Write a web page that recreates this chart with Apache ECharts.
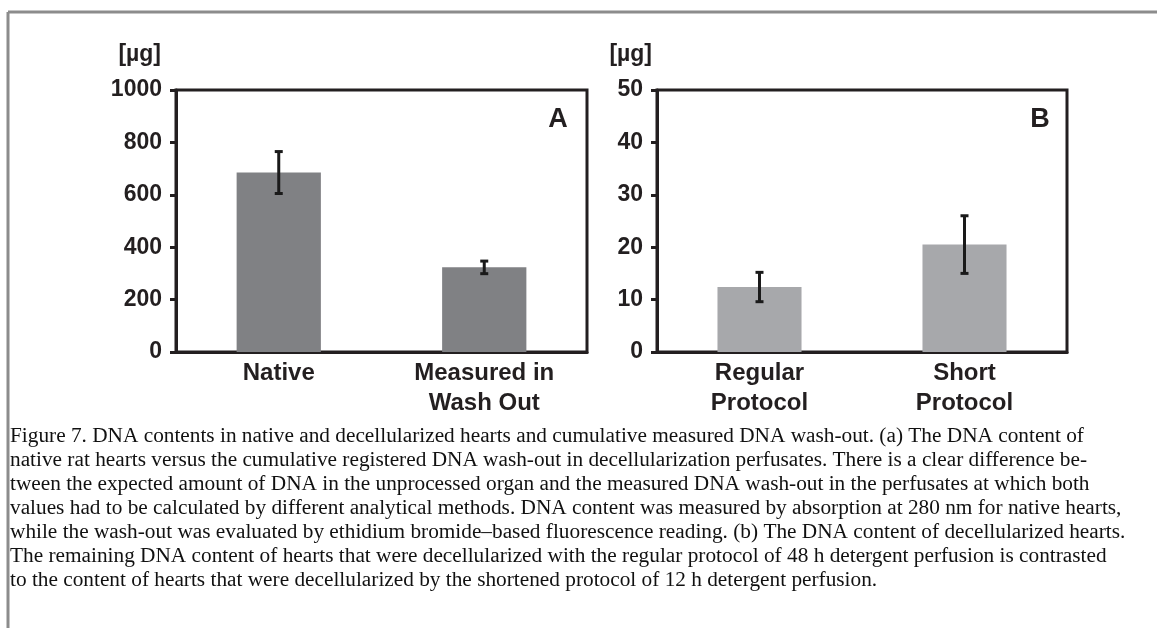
<!DOCTYPE html>
<html><head><meta charset="utf-8">
<script src="https://cdn.jsdelivr.net/npm/echarts@6/dist/echarts.min.js"></script>
<style>html,body{margin:0;padding:0;background:#fff}#c{width:1157px;height:628px}</style>
</head><body><div id="c"></div>
<script>
const catsA = ['Native', 'Measured in\nWash Out'];
const valsA = [685, 323];
const errA = [80, 24];
const ticksA = {min: 0, max: 1000, interval: 200};
const catsB = ['Regular\nProtocol', 'Short\nProtocol'];
const valsB = [12.4, 20.5];
const errB = [2.8, 5.5];
const ticksB = {min: 0, max: 50, interval: 10};
const unitLabel = '[µg]';
const panelLabels = ['A', 'B'];
const captionLines = [
  'Figure 7. DNA contents in native and decellularized hearts and cumulative measured DNA wash-out. (a) The DNA content of',
  'native rat hearts versus the cumulative registered DNA wash-out in decellularization perfusates. There is a clear difference be-',
  'tween the expected amount of DNA in the unprocessed organ and the measured DNA wash-out in the perfusates at which both',
  'values had to be calculated by different analytical methods. DNA content was measured by absorption at 280 nm for native hearts,',
  'while the wash-out was evaluated by ethidium bromide\u2013based fluorescence reading. (b) The DNA content of decellularized hearts.',
  'The remaining DNA content of hearts that were decellularized with the regular protocol of 48 h detergent perfusion is contrasted',
  'to the content of hearts that were decellularized by the shortened protocol of 12 h detergent perfusion.'
];

const ink = '#231f20';
const sans = 'Liberation Sans, Arial, sans-serif';
const serif = 'Liberation Serif, Times New Roman, serif';

function yAxis(idx, t) {
  return {
    type: 'value', gridIndex: idx, min: t.min, max: t.max, interval: t.interval,
    axisLine: {show: true, lineStyle: {color: ink, width: 3}},
    axisTick: {show: true, length: 6, lineStyle: {color: ink, width: 3}},
    axisLabel: {color: ink, fontFamily: sans, fontWeight: 'bold', fontSize: 23, margin: 14,
                formatter: v => String(v)},
    splitLine: {show: false}
  };
}
function xAxis(idx, cats) {
  return {
    type: 'category', gridIndex: idx, data: cats,
    axisLine: {show: true, lineStyle: {color: ink, width: 3}},
    axisTick: {show: false},
    axisLabel: {color: ink, fontFamily: sans, fontWeight: 'bold', fontSize: 24, lineHeight: 30, margin: 6, interval: 0}
  };
}
function errSeries(idx, vals, errs) {
  return {
    type: 'custom', xAxisIndex: idx, yAxisIndex: idx, z: 5,
    data: vals.map((v, i) => [i, v - errs[i], v + errs[i]]),
    encode: {x: 0, y: [1, 2]},
    renderItem: function (params, api) {
      const lo = api.coord([api.value(0), api.value(1)]);
      const hi = api.coord([api.value(0), api.value(2)]);
      const cw = 4;
      const st = {stroke: '#1a1a1a', lineWidth: 3};
      return {type: 'group', children: [
        {type: 'line', shape: {x1: lo[0], y1: lo[1], x2: hi[0], y2: hi[1]}, style: st},
        {type: 'line', shape: {x1: lo[0] - cw, y1: lo[1], x2: lo[0] + cw, y2: lo[1]}, style: st},
        {type: 'line', shape: {x1: hi[0] - cw, y1: hi[1], x2: hi[0] + cw, y2: hi[1]}, style: st}
      ]};
    }
  };
}

const chart = echarts.init(document.getElementById('c'));
chart.setOption({
  backgroundColor: '#fff',
  animation: false,
  grid: [
    {left: 176, right: 570, top: 90, bottom: 276, show: true, borderColor: ink, borderWidth: 3},
    {left: 657, right: 90, top: 90, bottom: 276, show: true, borderColor: ink, borderWidth: 3}
  ],
  xAxis: [xAxis(0, catsA), xAxis(1, catsB)],
  yAxis: [yAxis(0, ticksA), yAxis(1, ticksB)],
  series: [
    {type: 'bar', xAxisIndex: 0, yAxisIndex: 0, data: valsA, barWidth: '41%', itemStyle: {color: '#808184'}},
    {type: 'bar', xAxisIndex: 1, yAxisIndex: 1, data: valsB, barWidth: '41%', itemStyle: {color: '#a7a8ab'}},
    errSeries(0, valsA, errA),
    errSeries(1, valsB, errB)
  ],
  graphic: [
    {type: 'line', shape: {x1: 8, y1: 12, x2: 1157, y2: 12}, style: {stroke: '#8c8c8c', lineWidth: 3}},
    {type: 'line', shape: {x1: 8, y1: 12, x2: 8, y2: 628}, style: {stroke: '#8c8c8c', lineWidth: 3}},
    {type: 'text', x: 161, y: 55, style: {text: unitLabel, fill: ink, font: 'bold 23px ' + sans, textAlign: 'right', textVerticalAlign: 'middle'}},
    {type: 'text', x: 652, y: 55, style: {text: unitLabel, fill: ink, font: 'bold 23px ' + sans, textAlign: 'right', textVerticalAlign: 'middle'}},
    {type: 'text', x: 558, y: 120, style: {text: panelLabels[0], fill: ink, font: 'bold 27px ' + sans, textAlign: 'center', textVerticalAlign: 'middle'}},
    {type: 'text', x: 1040, y: 120, style: {text: panelLabels[1], fill: ink, font: 'bold 27px ' + sans, textAlign: 'center', textVerticalAlign: 'middle'}},
    {type: 'text', x: 10, y: 424, style: {text: captionLines.join('\n'), fill: '#111', font: '21.3px ' + serif, lineHeight: 24, textAlign: 'left', textVerticalAlign: 'top'}}
  ]
});
</script>
</body></html>
